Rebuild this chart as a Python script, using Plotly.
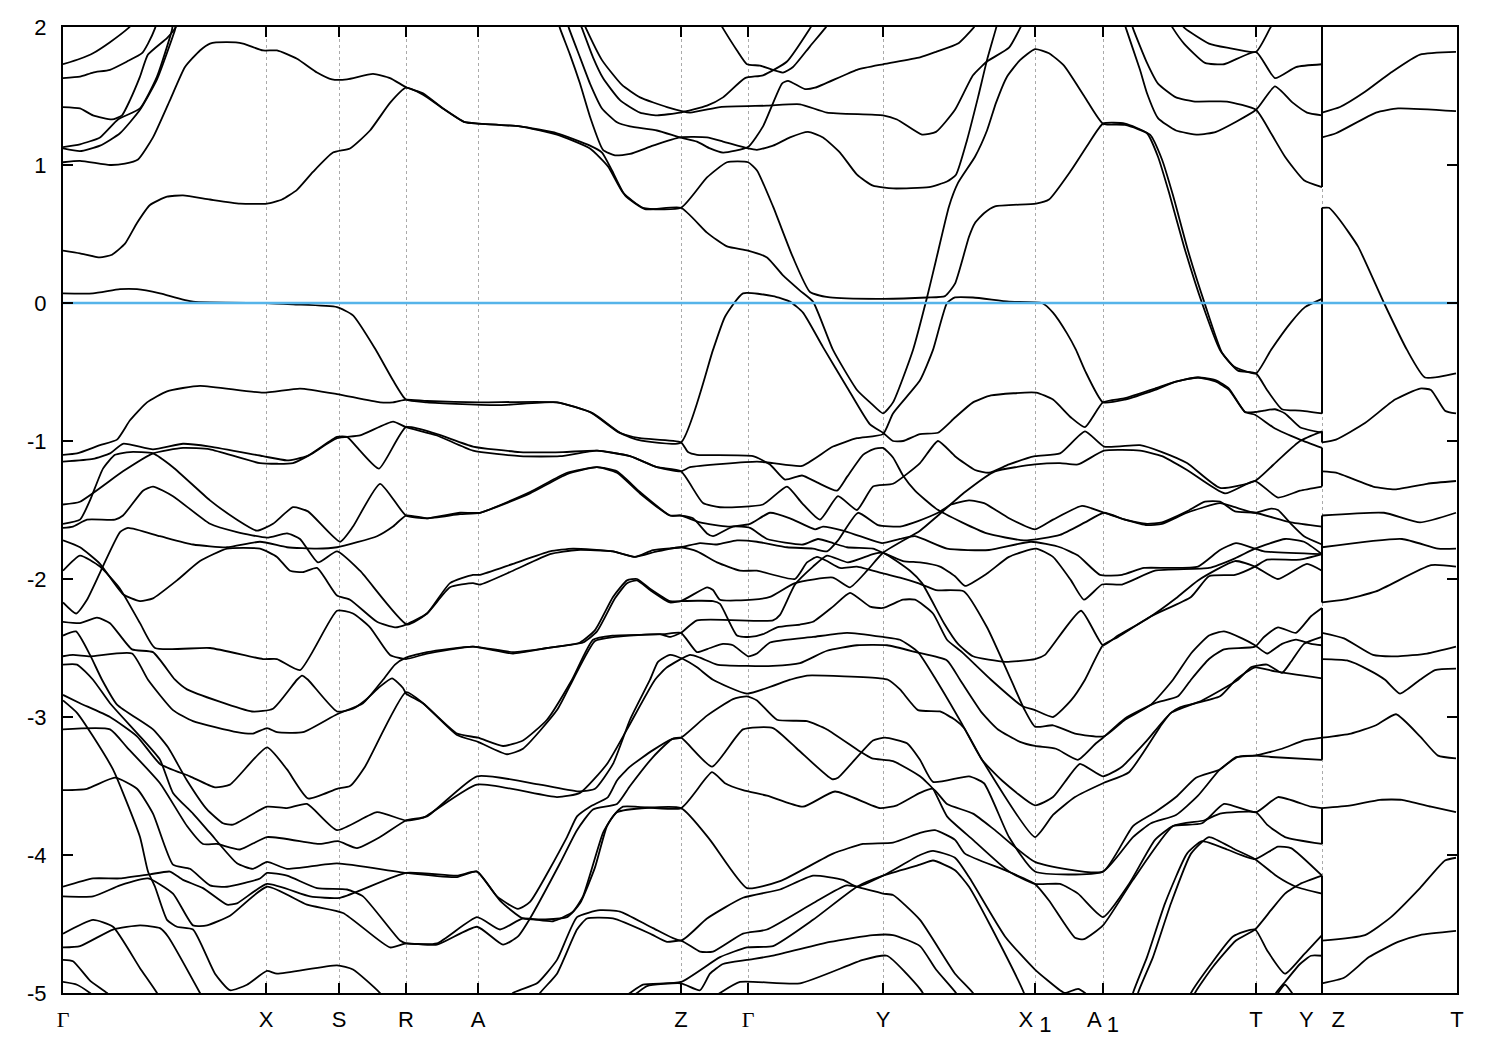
import plotly.graph_objects as go

# (k-path distance, energy in eV)
band_01 = [(0,1.73),(17,1.77),(30,1.81),(47,1.89),(65,1.99),(72,2.04)]
band_02 = [(0,1.63),(17,1.64),(30,1.67),(47,1.69),(64,1.75),(79,1.81),(85,1.88),(92,1.99),(94,2.04)]
band_03 = [(0,1.42),(17,1.41),(30,1.36),(49,1.33),(59,1.36),(67,1.47),(77,1.64),(85,1.80),(104,1.92),(112,1.99),(115,2.04)]
band_04 = [(0,1.13),(17,1.15),(37,1.20),(55,1.33),(77,1.41),(94,1.64),(109,1.98),(110,2.04)]
band_05 = [(0,1.12),(17,1.10),(37,1.14),(57,1.23),(77,1.40),(94,1.62),(112,1.98),(114,2.04)]
band_06 = [(0,1.02),(17,1.03),(47,1.00),(62,1.01),(75,1.04),(90,1.20),(107,1.47),(122,1.71),(137,1.83),(147,1.88),(164,1.89),(180,1.88),(200,1.83),(214,1.83),(234,1.77),(254,1.67),(269,1.62),(284,1.62),(310,1.66),(327,1.63),(344,1.56),(360,1.52),(380,1.41),(402,1.31),(415,1.30),(457,1.28),(494,1.22),(527,1.12),(545,0.99),(560,0.80),(580,0.69),(618,0.69),(644,0.91),(664,1.02),(685,1.02),(694,0.96),(710,0.70),(730,0.33),(747,0.08),(767,0.04),(820,0.03),(864,0.04),(882,0.05),(892,0.14),(906,0.48),(912,0.58),(921,0.65),(932,0.70),(973,0.72),(986,0.75),(1008,0.96),(1026,1.16),(1040,1.30),(1062,1.30),(1084,1.23),(1095,1.06),(1106,0.80),(1121,0.41),(1139,0.00),(1157,-0.34),(1171,-0.46),(1193,-0.51),(1208,-0.34),(1228,-0.14),(1242,-0.03),(1259,0.03)]
band_07 = [(0,0.38),(17,0.36),(37,0.33),(49,0.35),(62,0.43),(74,0.58),(87,0.71),(104,0.77),(120,0.78),(147,0.75),(177,0.72),(204,0.72),(219,0.75),(234,0.82),(250,0.95),(270,1.09),(287,1.12),(307,1.25),(327,1.45),(343,1.56),(360,1.51),(380,1.41),(402,1.31),(415,1.30),(457,1.28),(494,1.23),(527,1.14),(539,1.09),(549,0.96),(562,0.78),(582,0.68),(618,0.69),(644,0.51),(664,0.41),(685,0.38),(704,0.33),(720,0.20),(737,0.09),(750,0.01),(770,-0.34),(794,-0.63),(807,-0.72),(820,-0.80),(830,-0.72),(850,-0.34),(864,0.04),(873,0.31),(886,0.70),(895,0.87),(912,1.06),(924,1.25),(933,1.45),(944,1.64),(957,1.76),(972,1.84),(986,1.81),(1001,1.72),(1022,1.49),(1040,1.30),(1062,1.29),(1087,1.22),(1099,1.04),(1110,0.78),(1125,0.38),(1142,-0.01),(1159,-0.36),(1175,-0.49),(1193,-0.51),(1204,-0.63),(1219,-0.77),(1237,-0.78),(1259,-0.80)]
band_08 = [(0,0.07),(30,0.07),(57,0.10),(74,0.10),(97,0.07),(130,0.01),(204,0.00),(230,-0.01),(274,-0.03),(290,-0.09),(312,-0.33),(330,-0.56),(343,-0.70),(364,-0.72),(437,-0.74),(494,-0.72),(530,-0.80),(557,-0.94),(577,-0.98),(618,-1.01),(625,-1.08),(634,-1.10),(690,-1.11),(707,-1.17),(722,-1.28),(739,-1.25),(754,-1.30),(774,-1.36),(784,-1.26),(800,-1.10),(810,-1.06),(820,-1.05),(830,-1.12),(840,-1.25),(852,-1.36),(873,-1.49),(899,-1.59),(924,-1.67),(961,-1.72),(997,-1.68),(1022,-1.59),(1041,-1.52),(1062,-1.57),(1084,-1.60),(1099,-1.59),(1124,-1.51),(1142,-1.44),(1157,-1.44),(1172,-1.51),(1192,-1.52),(1228,-1.59),(1259,-1.62)]
band_09 = [(0,-1.10),(14,-1.09),(37,-1.03),(54,-0.99),(67,-0.85),(84,-0.72),(104,-0.64),(137,-0.60),(200,-0.65),(237,-0.62),(274,-0.66),(317,-0.72),(330,-0.72),(343,-0.70),(364,-0.71),(417,-0.72),(494,-0.72),(527,-0.79),(554,-0.93),(574,-0.99),(618,-1.01),(650,-0.34),(662,-0.10),(680,0.07),(710,0.05),(727,0.01),(740,-0.07),(760,-0.32),(784,-0.61),(807,-0.88),(820,-0.94),(830,-1.00),(840,-1.00),(857,-0.95),(875,-0.94),(892,-0.83),(910,-0.72),(928,-0.67),(973,-0.65),(990,-0.70),(1008,-0.83),(1022,-0.90),(1040,-0.72),(1062,-0.69),(1092,-0.62),(1113,-0.57),(1135,-0.54),(1153,-0.56),(1166,-0.62),(1182,-0.79),(1192,-0.79),(1201,-0.78),(1212,-0.77),(1222,-0.80),(1237,-0.90),(1259,-0.94)]
band_10 = [(0,-1.15),(30,-1.13),(47,-1.09),(60,-1.02),(90,-1.06),(120,-1.02),(147,-1.04),(200,-1.11),(224,-1.14),(244,-1.11),(274,-0.97),(284,-0.97),(297,-1.07),(316,-1.20),(343,-0.90),(374,-0.95),(410,-1.04),(457,-1.08),(500,-1.08),(534,-1.07),(567,-1.11),(594,-1.19),(618,-1.22),(627,-1.19),(694,-1.15),(710,-1.16),(739,-1.18),(770,-1.04),(794,-0.98),(820,-0.95),(830,-0.80),(857,-0.56),(870,-0.34),(884,0.00),(892,0.04),(910,0.04),(946,0.01),(979,0.00),(990,-0.07),(1004,-0.22),(1013,-0.34),(1022,-0.49),(1040,-0.72),(1062,-0.70),(1092,-0.63),(1113,-0.57),(1135,-0.54),(1153,-0.57),(1166,-0.63),(1182,-0.79),(1192,-0.81),(1212,-0.91),(1237,-0.99),(1259,-1.05)]
band_11 = [(0,-1.46),(17,-1.44),(60,-1.22),(90,-1.09),(120,-1.05),(147,-1.06),(197,-1.16),(230,-1.16),(247,-1.10),(274,-0.98),(297,-0.96),(330,-0.86),(343,-0.90),(374,-0.96),(410,-1.07),(457,-1.11),(497,-1.11),(534,-1.07),(567,-1.11),(594,-1.19),(618,-1.22),(640,-1.45),(657,-1.48),(700,-1.46),(724,-1.33),(739,-1.45),(757,-1.57),(775,-1.40),(794,-1.50),(810,-1.33),(830,-1.31),(857,-1.16),(875,-1.00),(892,-1.11),(912,-1.21),(926,-1.23),(946,-1.17),(972,-1.11),(997,-1.09),(1022,-0.93),(1041,-1.04),(1077,-1.03),(1099,-1.08),(1124,-1.16),(1157,-1.34),(1192,-1.29),(1215,-1.14),(1237,-1.00),(1259,-0.93)]
band_12 = [(0,-1.60),(17,-1.57),(27,-1.43),(40,-1.20),(52,-1.10),(67,-1.08),(90,-1.09),(110,-1.19),(147,-1.43),(174,-1.57),(194,-1.65),(210,-1.60),(230,-1.48),(245,-1.51),(277,-1.73),(290,-1.62),(317,-1.31),(343,-1.54),(364,-1.56),(397,-1.52),(417,-1.52),(467,-1.37),(504,-1.23),(534,-1.19),(554,-1.22),(577,-1.37),(607,-1.54),(618,-1.54),(630,-1.56),(644,-1.67),(650,-1.69),(670,-1.62),(687,-1.63),(704,-1.71),(740,-1.75),(755,-1.71),(770,-1.74),(784,-1.77),(810,-1.78),(820,-1.81),(840,-1.87),(857,-1.88),(877,-1.91),(892,-1.98),(902,-2.05),(924,-1.96),(946,-1.84),(973,-1.78),(990,-1.84),(1008,-2.01),(1021,-2.15),(1039,-2.04),(1059,-2.04),(1092,-1.94),(1146,-1.92),(1172,-1.85),(1192,-1.78),(1222,-1.71),(1241,-1.73),(1259,-1.82)]
band_13 = [(0,-2.17),(13,-2.25),(24,-2.15),(57,-1.66),(65,-1.63),(97,-1.69),(130,-1.75),(164,-1.77),(197,-1.73),(224,-1.77),(254,-1.78),(274,-1.77),(314,-1.69),(330,-1.62),(343,-1.54),(364,-1.56),(397,-1.53),(417,-1.52),(467,-1.38),(504,-1.24),(534,-1.19),(554,-1.23),(577,-1.38),(607,-1.54),(618,-1.54),(637,-1.59),(665,-1.62),(687,-1.60),(707,-1.52),(727,-1.56),(752,-1.64),(760,-1.62),(780,-1.65),(797,-1.69),(819,-1.74),(837,-1.71),(852,-1.69),(884,-1.78),(926,-1.79),(968,-1.73),(997,-1.77),(1015,-1.83),(1037,-1.97),(1059,-1.97),(1081,-1.92),(1106,-1.92),(1135,-1.91),(1157,-1.79),(1173,-1.74),(1192,-1.78),(1201,-1.80),(1259,-1.82)]
band_14 = [(0,-1.63),(10,-1.62),(24,-1.57),(52,-1.57),(60,-1.54),(80,-1.36),(90,-1.33),(110,-1.40),(147,-1.60),(174,-1.66),(204,-1.70),(224,-1.67),(237,-1.71),(255,-1.88),(274,-1.80),(297,-1.94),(344,-2.33),(364,-2.25),(387,-2.06),(410,-2.03),(417,-2.04),(450,-1.94),(487,-1.82),(514,-1.79),(550,-1.80),(572,-1.84),(594,-1.80),(618,-1.77),(634,-1.80),(654,-1.88),(677,-1.94),(694,-1.94),(732,-2.00),(744,-1.88),(754,-1.84),(764,-1.87),(777,-1.92),(794,-1.91),(820,-1.96),(837,-1.99),(855,-2.03),(873,-2.08),(901,-2.09),(924,-2.35),(948,-2.73),(961,-2.94),(972,-3.07),(990,-3.06),(1012,-3.12),(1041,-3.14),(1062,-3.02),(1088,-2.91),(1110,-2.73),(1128,-2.54),(1146,-2.41),(1161,-2.38),(1179,-2.43),(1192,-2.48),(1204,-2.54),(1219,-2.47),(1233,-2.44),(1248,-2.47),(1259,-2.48)]
band_15 = [(0,-1.72),(17,-1.77),(37,-1.89),(60,-2.11),(77,-2.16),(90,-2.14),(114,-2.01),(137,-1.87),(164,-1.78),(197,-1.78),(214,-1.84),(227,-1.94),(240,-1.95),(254,-1.92),(274,-2.12),(287,-2.15),(314,-2.31),(332,-2.35),(343,-2.33),(364,-2.25),(387,-2.03),(410,-1.97),(417,-1.97),(450,-1.89),(487,-1.80),(510,-1.78),(550,-1.80),(572,-1.84),(590,-1.79),(618,-1.77),(637,-1.74),(654,-1.75),(674,-1.72),(694,-1.73),(724,-1.77),(750,-1.78),(764,-1.80),(775,-1.72),(795,-1.52),(815,-1.61),(837,-1.62),(855,-1.58),(875,-1.52),(888,-1.46),(906,-1.43),(921,-1.45),(946,-1.56),(972,-1.64),(990,-1.57),(1019,-1.47),(1041,-1.52),(1062,-1.57),(1084,-1.61),(1099,-1.60),(1124,-1.52),(1157,-1.45),(1172,-1.48),(1192,-1.52),(1208,-1.49),(1215,-1.50),(1228,-1.60),(1241,-1.69),(1259,-1.75)]
band_16 = [(0,-1.94),(17,-1.83),(37,-1.91),(57,-2.07),(77,-2.32),(92,-2.50),(147,-2.50),(200,-2.58),(214,-2.58),(237,-2.66),(274,-2.23),(290,-2.25),(307,-2.35),(327,-2.55),(343,-2.58),(364,-2.54),(410,-2.49),(450,-2.53),(484,-2.50),(517,-2.46),(532,-2.37),(550,-2.13),(564,-2.01),(574,-2.00),(587,-2.07),(607,-2.16),(618,-2.16),(644,-2.06),(650,-2.08),(657,-2.15),(690,-2.15),(707,-2.13),(732,-2.03),(770,-1.99),(787,-2.06),(804,-1.94),(820,-1.81),(857,-1.65),(875,-1.54),(902,-1.37),(932,-1.22),(972,-1.17),(997,-1.16),(1015,-1.17),(1041,-1.07),(1077,-1.07),(1099,-1.11),(1124,-1.21),(1162,-1.38),(1192,-1.29),(1215,-1.41),(1237,-1.36),(1259,-1.33)]
band_17 = [(0,-3.09),(47,-3.09),(64,-3.22),(97,-3.48),(124,-3.79),(140,-3.92),(154,-3.92),(177,-3.96),(204,-3.87),(257,-3.92),(275,-3.90),(294,-3.95),(317,-3.87),(343,-3.75),(364,-3.72),(414,-3.43),(477,-3.49),(517,-3.54),(532,-3.52),(550,-3.34),(567,-3.02),(587,-2.73),(595,-2.60),(607,-2.55),(620,-2.58),(634,-2.64),(650,-2.73),(684,-2.83),(727,-2.73),(744,-2.70),(817,-2.72),(825,-2.73),(837,-2.80),(855,-2.95),(877,-2.96),(892,-3.02),(901,-3.08),(919,-3.31),(972,-3.87),(990,-3.71),(1012,-3.58),(1040,-3.48),(1066,-3.40),(1099,-3.05),(1108,-2.97),(1117,-2.93),(1157,-2.85),(1173,-2.73),(1192,-2.64),(1212,-2.67),(1259,-2.72)]
band_18 = [(0,-2.41),(13,-2.38),(27,-2.55),(39,-2.73),(54,-2.91),(90,-3.09),(105,-3.22),(124,-3.46),(144,-3.67),(160,-3.77),(170,-3.78),(204,-3.65),(224,-3.66),(244,-3.63),(274,-3.82),(314,-3.69),(343,-3.75),(360,-3.73),(414,-3.49),(494,-3.58),(517,-3.55),(544,-3.34),(564,-3.09),(592,-2.73),(604,-2.64),(627,-2.55),(637,-2.57),(654,-2.62),(684,-2.63),(710,-2.63),(737,-2.61),(764,-2.52),(794,-2.48),(824,-2.48),(853,-2.53),(884,-2.59),(897,-2.73),(919,-2.97),(935,-3.09),(957,-3.18),(972,-3.21),(993,-3.23),(1015,-3.31),(1033,-3.19),(1040,-3.15),(1062,-3.01),(1092,-2.90),(1115,-2.85),(1128,-2.73),(1146,-2.58),(1161,-2.51),(1192,-2.49),(1201,-2.42),(1215,-2.35),(1233,-2.39),(1248,-2.27),(1259,-2.21)]
band_19 = [(0,-2.62),(14,-2.62),(30,-2.73),(47,-2.90),(77,-3.14),(97,-3.31),(110,-3.55),(130,-3.70),(147,-3.84),(174,-4.06),(190,-4.10),(204,-4.05),(224,-4.10),(274,-4.06),(343,-4.13),(394,-4.16),(414,-4.12),(437,-4.33),(460,-4.46),(504,-4.45),(517,-4.35),(532,-4.09),(544,-3.79),(554,-3.69),(618,-3.66),(647,-3.89),(684,-4.24),(717,-4.19),(770,-3.99),(800,-3.92),(830,-3.91),(857,-3.84),(872,-3.82),(892,-3.89),(902,-3.99),(942,-4.11),(972,-4.21),(986,-4.33),(1012,-4.60),(1021,-4.61),(1040,-4.51),(1070,-4.18),(1110,-3.79),(1141,-3.75),(1157,-3.70),(1193,-3.69),(1204,-3.78),(1222,-3.87),(1259,-3.92)]
band_20 = [(0,-2.56),(10,-2.55),(27,-2.56),(69,-2.54),(85,-2.73),(110,-2.95),(130,-3.03),(174,-3.11),(190,-3.12),(204,-3.08),(214,-3.11),(240,-3.11),(274,-2.98),(300,-2.90),(320,-2.73),(332,-2.62),(343,-2.57),(364,-2.53),(410,-2.49),(450,-2.54),(484,-2.50),(520,-2.46),(534,-2.38),(552,-2.14),(564,-2.03),(574,-2.01),(587,-2.08),(607,-2.17),(618,-2.16),(650,-2.16),(657,-2.18),(674,-2.41),(687,-2.42),(700,-2.40),(714,-2.35),(737,-2.33),(750,-2.31),(770,-2.20),(787,-2.10),(807,-2.20),(820,-2.21),(840,-2.15),(852,-2.15),(870,-2.25),(884,-2.44),(899,-2.53),(928,-2.73),(959,-2.92),(972,-2.95),(990,-3.00),(1008,-2.88),(1022,-2.73),(1040,-2.48),(1055,-2.42),(1088,-2.27),(1128,-2.13),(1146,-1.98),(1172,-1.97),(1192,-1.91),(1204,-1.86),(1237,-1.86),(1259,-1.82)]
band_21 = [(0,-2.31),(17,-2.32),(34,-2.28),(47,-2.32),(69,-2.51),(90,-2.53),(112,-2.73),(124,-2.80),(189,-2.96),(210,-2.94),(234,-2.73),(239,-2.70),(245,-2.73),(274,-2.96),(290,-2.94),(302,-2.88),(317,-2.78),(329,-2.72),(340,-2.79),(343,-2.83),(360,-2.90),(394,-3.12),(415,-3.15),(440,-3.21),(460,-3.17),(484,-3.02),(509,-2.73),(530,-2.44),(550,-2.41),(600,-2.40),(618,-2.39),(634,-2.53),(647,-2.50),(660,-2.47),(670,-2.48),(685,-2.56),(694,-2.54),(707,-2.46),(750,-2.42),(784,-2.39),(820,-2.42),(837,-2.44),(855,-2.53),(873,-2.73),(899,-3.05),(919,-3.31),(939,-3.46),(972,-3.64),(990,-3.58),(1006,-3.43),(1017,-3.34),(1040,-3.43),(1059,-3.36),(1084,-3.17),(1108,-2.97),(1139,-2.88),(1175,-2.73),(1188,-2.64),(1204,-2.62),(1219,-2.68),(1228,-2.60),(1241,-2.47),(1259,-2.42)]
band_22 = [(0,-2.84),(17,-2.90),(47,-3.00),(74,-3.14),(97,-3.34),(127,-3.43),(152,-3.51),(167,-3.49),(204,-3.22),(224,-3.38),(245,-3.59),(274,-3.52),(287,-3.50),(302,-3.36),(343,-2.82),(360,-2.90),(394,-3.13),(415,-3.18),(444,-3.27),(460,-3.23),(494,-2.95),(510,-2.73),(532,-2.45),(552,-2.42),(597,-2.40),(607,-2.42),(618,-2.39),(634,-2.30),(710,-2.30),(717,-2.26),(732,-2.04),(750,-1.91),(764,-1.83),(785,-1.88),(810,-1.82),(820,-1.81),(847,-1.94),(859,-2.03),(881,-2.32),(895,-2.47),(910,-2.56),(942,-2.60),(972,-2.58),(982,-2.55),(1018,-2.23),(1040,-2.48),(1055,-2.41),(1084,-2.29),(1113,-2.14),(1135,-2.01),(1172,-1.87),(1192,-1.91),(1215,-2.00),(1244,-1.89),(1259,-1.94)]
band_23 = [(0,-2.88),(14,-2.97),(30,-3.14),(50,-3.38),(60,-3.55),(77,-3.87),(85,-4.12),(92,-4.23),(104,-4.47),(114,-4.52),(130,-4.54),(152,-4.86),(167,-4.98),(184,-4.94),(204,-4.84),(214,-4.86),(274,-4.80),(290,-4.83),(317,-5.00),(330,-5.12)]
band_24 = [(0,-3.53),(24,-3.52),(52,-3.44),(74,-3.52),(90,-3.70),(110,-4.07),(127,-4.10),(147,-4.22),(164,-4.23),(197,-4.17),(204,-4.13),(224,-4.15),(254,-4.24),(284,-4.25),(300,-4.30),(337,-4.62),(343,-4.64),(374,-4.64),(414,-4.45),(437,-4.54),(460,-4.46),(490,-4.48),(510,-4.41),(520,-4.30),(540,-3.84),(550,-3.72),(560,-3.65),(618,-3.66),(649,-3.40),(662,-3.48),(680,-3.53),(704,-3.57),(740,-3.65),(772,-3.54),(817,-3.66),(834,-3.64),(857,-3.55),(870,-3.52),(884,-3.63),(910,-3.70),(932,-3.82),(972,-4.05),(1040,-4.12),(1070,-3.79),(1092,-3.69),(1113,-3.58),(1133,-3.44),(1157,-3.38),(1173,-3.29),(1192,-3.28),(1219,-3.23),(1241,-3.17),(1259,-3.15)]
band_25 = [(0,-4.23),(30,-4.17),(57,-4.17),(87,-4.14),(107,-4.12),(120,-4.18),(140,-4.24),(164,-4.36),(174,-4.35),(204,-4.21),(247,-4.30),(277,-4.31),(343,-4.13),(394,-4.15),(414,-4.12),(434,-4.30),(455,-4.39),(467,-4.34),(504,-3.87),(514,-3.72),(527,-3.65),(545,-3.58),(554,-3.46),(567,-3.36),(590,-3.24),(609,-3.16),(618,-3.15),(644,-2.99),(670,-2.87),(684,-2.85),(694,-2.88),(714,-3.02),(744,-3.03),(764,-3.09),(797,-3.25),(809,-3.30),(830,-3.32),(857,-3.43),(870,-3.52),(884,-3.72),(910,-3.89),(946,-4.12),(972,-4.21),(997,-4.21),(1015,-4.28),(1040,-4.45),(1066,-4.21),(1092,-3.89),(1110,-3.79),(1139,-3.77),(1161,-3.63),(1193,-3.69),(1215,-3.58),(1248,-3.65),(1259,-3.66)]
band_26 = [(0,-4.30),(30,-4.30),(57,-4.22),(85,-4.17),(110,-4.28),(130,-4.51),(144,-4.51),(167,-4.44),(204,-4.23),(244,-4.36),(280,-4.42),(327,-4.67),(343,-4.64),(374,-4.65),(414,-4.52),(440,-4.65),(455,-4.59),(467,-4.46),(497,-4.06),(514,-3.82),(530,-3.67),(554,-3.63),(567,-3.50),(590,-3.29),(609,-3.16),(618,-3.15),(649,-3.36),(680,-3.09),(710,-3.08),(734,-3.23),(769,-3.45),(775,-3.44),(810,-3.17),(822,-3.15),(844,-3.19),(857,-3.31),(870,-3.47),(906,-3.43),(921,-3.48),(946,-3.87),(972,-4.12),(1040,-4.12),(1070,-3.87),(1088,-3.77),(1113,-3.71),(1135,-3.57),(1157,-3.38),(1175,-3.29),(1192,-3.28),(1208,-3.29),(1259,-3.31)]
band_27 = [(0,-4.57),(30,-4.47),(50,-4.52),(77,-4.82),(94,-5.00),(105,-5.15)]
band_28 = [(0,-4.67),(17,-4.66),(50,-4.54),(77,-4.51),(97,-4.53),(105,-4.59),(137,-5.00),(150,-5.18)]
band_29 = [(0,-4.76),(10,-4.77),(27,-4.91),(44,-5.00),(55,-5.08)]
band_30 = [(0,-4.92),(14,-4.94),(27,-5.00),(40,-5.08)]
band_31 = [(440,-5.12),(450,-5.00),(474,-4.93),(494,-4.76),(514,-4.45),(537,-4.40),(557,-4.41),(590,-4.53),(618,-4.62),(644,-4.46),(680,-4.31),(717,-4.25),(750,-4.15),(780,-4.18),(794,-4.23),(820,-4.15),(857,-4.00),(870,-3.97),(892,-4.02),(906,-4.16),(942,-4.59),(972,-4.83),(997,-4.98),(1002,-5.00),(1015,-4.97),(1022,-5.00),(1030,-5.06)]
band_32 = [(468,-5.12),(477,-5.00),(494,-4.86),(514,-4.54),(524,-4.46),(550,-4.46),(587,-4.57),(604,-4.63),(618,-4.62),(637,-4.70),(650,-4.70),(680,-4.57),(704,-4.54),(750,-4.35),(784,-4.22),(820,-4.28),(830,-4.29),(857,-4.47),(892,-4.86),(910,-5.00),(925,-5.2)]
band_33 = [(555,-5.06),(567,-5.00),(580,-4.94),(618,-4.92),(657,-4.74),(684,-4.67),(710,-4.66),(750,-4.47),(794,-4.23),(820,-4.15),(857,-4.07),(870,-4.04),(892,-4.11),(906,-4.23),(928,-4.52),(961,-5.00),(975,-5.3)]
band_34 = [(562,-5.06),(574,-5.00),(584,-4.95),(618,-4.93),(637,-4.98),(647,-4.86),(660,-4.79),(684,-4.76),(710,-4.73),(767,-4.63),(810,-4.58),(830,-4.58),(857,-4.66),(873,-4.83),(893,-5.00),(905,-5.15)]
band_35 = [(645,-5.06),(657,-5.00),(677,-4.92),(737,-4.93),(800,-4.76),(824,-4.73),(857,-4.97),(868,-5.10)]
band_36 = [(1060,-5.3),(1070,-5.00),(1084,-4.74),(1102,-4.35),(1124,-3.99),(1139,-3.90),(1164,-3.96),(1192,-4.03),(1215,-3.94),(1228,-3.95),(1259,-4.15)]
band_37 = [(1065,-5.3),(1075,-5.00),(1090,-4.74),(1108,-4.35),(1128,-3.99),(1146,-3.87),(1172,-3.96),(1192,-4.03),(1215,-4.16),(1233,-4.23),(1259,-4.28)]
band_38 = [(1118,-5.2),(1128,-5.00),(1146,-4.81),(1170,-4.59),(1192,-4.54),(1204,-4.69),(1222,-4.86),(1241,-4.72),(1259,-4.58)]
band_39 = [(1122,-5.2),(1132,-5.00),(1150,-4.81),(1173,-4.62),(1192,-4.54),(1208,-4.40),(1222,-4.28),(1237,-4.21),(1259,-4.15)]
band_40 = [(1205,-5.12),(1213,-5.00),(1222,-4.92),(1237,-4.79),(1248,-4.73),(1259,-4.73)]
band_41 = [(1208,-5.08),(1215,-5.00),(1222,-4.94),(1229,-5.00),(1234,-5.08)]
band_42 = [(1061,2.04),(1063,1.99),(1077,1.69),(1084,1.52),(1095,1.34),(1113,1.25),(1135,1.22),(1153,1.24),(1193,1.40),(1212,1.57),(1230,1.45),(1244,1.38),(1259,1.36)]
band_43 = [(1068,2.04),(1070,1.99),(1084,1.74),(1095,1.59),(1113,1.49),(1132,1.46),(1164,1.46),(1193,1.40),(1208,1.23),(1222,1.06),(1241,0.89),(1259,0.84)]
band_44 = [(1106,2.04),(1110,1.99),(1121,1.88),(1142,1.74),(1161,1.73),(1193,1.82),(1212,1.63),(1233,1.71),(1259,1.73)]
band_45 = [(1116,2.04),(1122,1.99),(1146,1.88),(1164,1.85),(1193,1.82),(1207,1.99),(1212,2.05)]
band_46 = [(495,2.04),(497,1.99),(507,1.80),(517,1.59),(527,1.35),(540,1.11),(552,1.07),(567,1.08),(590,1.14),(617,1.20),(644,1.20),(660,1.17),(685,1.12),(694,1.11),(710,1.14),(727,1.20),(745,1.24),(760,1.20),(777,1.09),(794,0.93),(810,0.85),(830,0.83),(866,0.84),(884,0.88),(893,0.93),(904,1.18),(915,1.49),(924,1.76),(933,1.99),(935,2.05)]
band_47 = [(504,2.04),(506,1.99),(517,1.78),(527,1.59),(539,1.41),(554,1.31),(567,1.28),(594,1.25),(617,1.20),(634,1.17),(647,1.12),(660,1.09),(685,1.13),(700,1.28),(719,1.59),(725,1.61),(742,1.55),(752,1.56),(794,1.69),(820,1.73),(857,1.78),(873,1.82),(895,1.88),(910,1.99),(916,2.05)]
band_48 = [(516,2.04),(519,1.99),(530,1.78),(540,1.63),(557,1.47),(577,1.38),(594,1.36),(617,1.38),(644,1.43),(660,1.49),(682,1.63),(700,1.65),(724,1.75),(747,1.99),(752,2.05)]
band_49 = [(520,2.04),(523,1.99),(539,1.76),(559,1.58),(577,1.49),(604,1.42),(627,1.38),(657,1.42),(704,1.43),(737,1.44),(764,1.38),(820,1.36),(834,1.33),(859,1.22),(873,1.24),(892,1.40),(910,1.65),(924,1.75),(946,1.85),(957,1.99),(961,2.05)]
band_50 = [(656,2.04),(660,1.99),(674,1.83),(684,1.73),(697,1.72),(720,1.67),(730,1.71),(747,1.86),(762,1.99),(767,2.04)]
panel_01 = [(1259,1.38),(1277,1.42),(1302,1.53),(1328,1.67),(1357,1.80),(1393,1.82)]
panel_02 = [(1259,1.20),(1273,1.23),(1313,1.38),(1335,1.41),(1393,1.39)]
panel_03 = [(1259,0.69),(1266,0.69),(1277,0.60),(1295,0.41),(1321,0.00),(1344,-0.34),(1362,-0.54),(1393,-0.51)]
panel_04 = [(1259,-1.01),(1273,-0.99),(1302,-0.87),(1332,-0.70),(1357,-0.62),(1368,-0.63),(1382,-0.78),(1393,-0.80)]
panel_05 = [(1259,-1.22),(1273,-1.23),(1310,-1.33),(1332,-1.35),(1364,-1.31),(1393,-1.29)]
panel_06 = [(1259,-1.54),(1321,-1.52),(1357,-1.59),(1393,-1.52)]
panel_07 = [(1259,-1.77),(1339,-1.71),(1375,-1.78),(1393,-1.78)]
panel_08 = [(1259,-2.17),(1281,-2.15),(1313,-2.09),(1368,-1.90),(1393,-1.91)]
panel_09 = [(1259,-2.39),(1281,-2.43),(1310,-2.55),(1335,-2.56),(1364,-2.54),(1393,-2.49)]
panel_10 = [(1259,-2.58),(1284,-2.59),(1306,-2.66),(1322,-2.73),(1337,-2.83),(1357,-2.73),(1372,-2.66),(1393,-2.65)]
panel_11 = [(1259,-3.15),(1288,-3.12),(1313,-3.06),(1333,-2.98),(1357,-3.14),(1375,-3.28),(1393,-3.30)]
panel_12 = [(1259,-3.66),(1288,-3.64),(1317,-3.60),(1339,-3.60),(1368,-3.65),(1393,-3.69)]
panel_13 = [(1259,-4.62),(1302,-4.58),(1328,-4.45),(1357,-4.24),(1382,-4.04),(1393,-4.02)]
panel_14 = [(1259,-4.93),(1281,-4.89),(1306,-4.74),(1335,-4.63),(1357,-4.58),(1393,-4.55)]

# energy jumps of the path at the Y|Z break
jump_top = [2.0, 0.69, -0.93, -1.05, -1.54, -2.21, -3.66, -4.15]
jump_bottom = [0.84, -0.80, -1.01, -1.33, -2.17, -3.31, -3.92, -5.0]

k_ticks = [0, 203, 276, 343, 415, 618, 685, 820, 972, 1040, 1193, 1259, 1394]
k_labels = ['<span style="font-family:Liberation Serif">Γ</span>', "X", "S", "R", "A", "Z",
            '<span style="font-family:Liberation Serif">Γ</span>', "Y",
            'X <sub><span style="font-size:22px">1</span></sub>',
            'A <sub><span style="font-size:22px">1</span></sub>',
            "T", "Y   Z", "T"]
e_ticks = [2, 1, 0, -1, -2, -3, -4, -5]
e_labels = ["2", "1", "0", "-1", "-2", "-3", "-4", "-5"]
fermi_k = [0, 1394]
fermi_e = [0, 0]

bands = [band_01, band_02, band_03, band_04, band_05, band_06, band_07, band_08, band_09, band_10,
         band_11, band_12, band_13, band_14, band_15, band_16, band_17, band_18, band_19, band_20,
         band_21, band_22, band_23, band_24, band_25, band_26, band_27, band_28, band_29, band_30,
         band_31, band_32, band_33, band_34, band_35, band_36, band_37, band_38, band_39, band_40,
         band_41, band_42, band_43, band_44, band_45, band_46, band_47, band_48, band_49, band_50,
         panel_01, panel_02, panel_03, panel_04, panel_05, panel_06, panel_07, panel_08, panel_09,
         panel_10, panel_11, panel_12, panel_13, panel_14]

fig = go.Figure()
for top, bottom in zip(jump_top, jump_bottom):
    fig.add_trace(go.Scatter(x=[k_ticks[11], k_ticks[11]], y=[top, bottom], mode="lines",
                             line=dict(color="black", width=2), hoverinfo="skip"))
for band in bands:
    fig.add_trace(go.Scatter(x=[p[0] for p in band], y=[p[1] for p in band], mode="lines",
                             line=dict(color="black", width=1.8, shape="spline", smoothing=0.5),
                             hoverinfo="skip"))
fig.add_trace(go.Scatter(x=fermi_k, y=fermi_e, mode="lines",
                         line=dict(color="#56B4E9", width=2.5), hoverinfo="skip"))

# the page body adds an 8px offset, so the figure is 16px smaller than the window
fig.update_layout(
    width=1484, height=1034, showlegend=False, plot_bgcolor="white", paper_bgcolor="white",
    margin=dict(l=55, r=35, t=19, b=49, autoexpand=False),
    font=dict(family="Liberation Sans", size=22, color="black"),
    xaxis=dict(range=[0, 1394], tickmode="array", tickvals=k_ticks, ticktext=k_labels,
               ticks="inside", ticklen=10, tickwidth=1.5, tickcolor="black", mirror="allticks",
               showline=True, linecolor="black", linewidth=2, zeroline=False,
               showgrid=True, gridcolor="#aaaaaa", griddash="3px,3px", gridwidth=1,
               tickangle=0, ticklabelstandoff=6),
    yaxis=dict(range=[-5, 2], tickmode="array", tickvals=e_ticks, ticktext=e_labels,
               ticks="inside", ticklen=10, tickwidth=1.5, tickcolor="black", mirror="allticks",
               showline=True, linecolor="black", linewidth=2, zeroline=False, showgrid=False,
               ticklabelstandoff=10),
)
fig.write_html("out.html")
